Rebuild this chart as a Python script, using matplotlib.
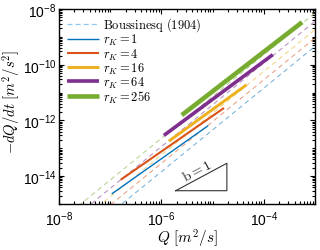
import matplotlib
matplotlib.use("Agg")
import math
import matplotlib.pyplot as plt
from matplotlib.ticker import LogLocator, FuncFormatter, NullFormatter

plt.rcParams['font.family'] = ['Liberation Sans', 'DejaVu Sans']
plt.rcParams['mathtext.fontset'] = 'cm'

# Data
labels = [r'$r_K = 1$', r'$r_K = 4$', r'$r_K = 16$', r'$r_K = 64$', r'$r_K = 256$']
colors = ['#0072BD', '#D95319', '#EDB120', '#7E2F8E', '#77AC30']
widths = [1.0, 1.5, 2.1, 2.6, 3.3]

# simulated recession: start/end points (Q, -dQ/dt)
sim_q = [[1.07e-7, 8.2e-6], [1.6e-7, 1.67e-5], [1.4e-6, 4.6e-5], [1.12e-6, 1.5e-4], [2.5e-6, 5.6e-4]]
sim_dq = [[2.3e-15, 6.5e-13], [7.4e-15, 2.8e-12], [1.8e-13, 1.9e-11], [2.9e-13, 2.3e-10], [1.55e-12, 3.35e-9]]

# Boussinesq (1904) reference lines: values at Q = 1e-8 and 1e-3
bous_q = [1e-8, 1e-3]
bous_dq = [[1.45e-17, 4.57e-10], [2.9e-17, 9.1e-10], [5.75e-17, 1.82e-9],
           [1.15e-16, 3.63e-9], [2.3e-16, 7.24e-9]]

fig = plt.figure(figsize=(3.2, 2.51), dpi=100)
ax = fig.add_axes([59/320, 1-205/251, 256/320, 195/251])

for c, dq in zip(colors, bous_dq):
    ax.plot(bous_q, dq, color=c, lw=0.75, alpha=0.55, dashes=(4.5, 3.5))

# legend proxy for Boussinesq
ax.plot([], [], color='#8CC8F0', lw=0.9, dashes=(4, 2.5), label=r'$\mathrm{Boussinesq\ (1904)}$')

for q, dq, c, w, lab in zip(sim_q, sim_dq, colors, widths, labels):
    ax.plot(q, dq, color=c, lw=w, solid_capstyle='butt', label=lab)

ax.set_xscale('log')
ax.set_yscale('log')
ax.set_xlim(1e-8, 1e-3)
ax.set_ylim(1e-15, 1e-8)

ax.xaxis.set_major_locator(LogLocator(base=100, numticks=10))
ax.yaxis.set_major_locator(LogLocator(base=100, numticks=10))
ax.xaxis.set_minor_locator(LogLocator(base=10, subs=[1, 2, 3, 4, 5, 6, 7, 8, 9], numticks=20))
ax.yaxis.set_minor_locator(LogLocator(base=10, subs=[1, 2, 3, 4, 5, 6, 7, 8, 9], numticks=20))
fmt = FuncFormatter(lambda v, p: r'$\mathregular{10^{%d}}$' % round(math.log10(v)))
ax.xaxis.set_major_formatter(fmt)
ax.yaxis.set_major_formatter(fmt)
ax.xaxis.set_minor_formatter(NullFormatter())
ax.yaxis.set_minor_formatter(NullFormatter())

ax.tick_params(which='both', direction='in', top=True, right=True, labelsize=10, width=0.8)
ax.tick_params(which='major', length=3.5)
ax.tick_params(axis='x', which='major', pad=4)
ax.tick_params(axis='y', which='major', pad=2)
ax.tick_params(which='minor', length=2)
for s in ax.spines.values():
    s.set_linewidth(1.0)

ax.set_xlabel(r'$Q\ [m^2/s]$', fontsize=11, labelpad=-1)
ax.set_ylabel(r'$-dQ/dt\ [m^2/s^2]$', fontsize=10.5)
ax.yaxis.set_label_coords(-0.145, 0.53)

# slope triangle b = 1
tx = [1.9e-6, 1.9e-5, 1.9e-5, 1.9e-6]
ty = [3.0e-15, 3.0e-15, 2.9e-14, 3.0e-15]
ax.plot(tx, ty, color='#333333', lw=0.8)
ax.text(5.0e-6, 1.55e-14, r'$\mathrm{b = 1}$', rotation=28, fontsize=10,
        ha='center', va='center', color='#222222')

leg = ax.legend(loc='upper left', frameon=False, fontsize=9, handlelength=2.6,
                handletextpad=0.3, labelspacing=-0.08, borderaxespad=0.2,
                bbox_to_anchor=(0.0, 1.005))

fig.savefig('out.png', dpi=100)
